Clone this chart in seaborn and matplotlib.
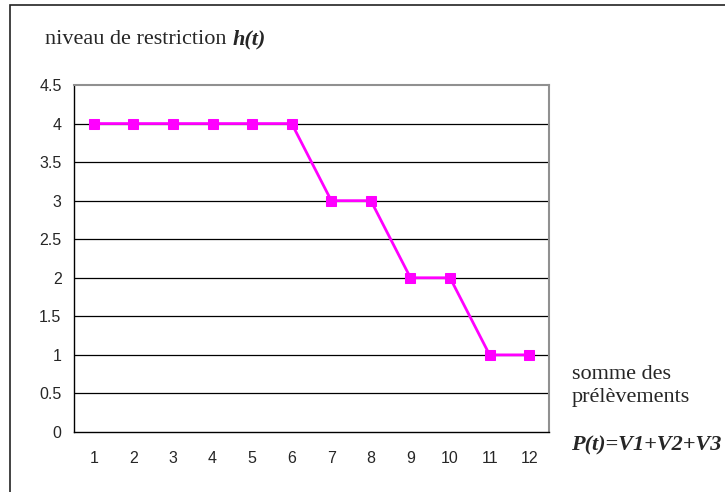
import pandas as pd
import numpy as np
import matplotlib
matplotlib.use("Agg")
import matplotlib.pyplot as plt
import seaborn as sns
from matplotlib.patches import Rectangle

# data
periods = [1, 2, 3, 4, 5, 6, 7, 8, 9, 10, 11, 12]
restriction = [4, 4, 4, 4, 4, 4, 3, 3, 2, 2, 1, 1]
y_ticks = [0, 0.5, 1, 1.5, 2, 2.5, 3, 3.5, 4, 4.5]

df = pd.DataFrame({"t": periods, "h": restriction})

sns.set_style("white")
plt.rcParams['font.family'] = ['Liberation Sans', 'DejaVu Sans']

fig = plt.figure(figsize=(7.25, 4.92), dpi=100)
ax = fig.add_axes([74 / 725, 1 - 432 / 492, 475 / 725, 347 / 492])

# horizontal gridlines
for v in y_ticks[1:-1]:
    ax.axhline(v, color="black", lw=0.9, zorder=0)

sns.lineplot(data=df, x="t", y="h", ax=ax, color="#FF00FF", lw=2,
             marker="s", markersize=7.5, markeredgecolor="#FF00FF", zorder=3)

ax.set_xlim(0.5, 12.5)
ax.set_ylim(0, 4.5)
ax.set_yticks(y_ticks)
ax.set_yticklabels([f"{v:g}" for v in y_ticks], fontsize=11.5)
ax.set_xticks(periods)
ax.set_xticklabels([str(p) for p in periods], fontsize=11.5)
ax.set_xticks(np.arange(0.5, 13, 1), minor=True)
ax.tick_params(axis="x", which="major", length=0, pad=14)
ax.tick_params(axis="x", which="minor", length=4, width=0.9, color="black", direction="out")
ax.tick_params(axis="y", length=4, width=0.9, color="black", direction="out", pad=5)
ax.set_xlabel("")
ax.set_ylabel("")

for side in ["left", "bottom"]:
    ax.spines[side].set_color("black")
    ax.spines[side].set_linewidth(1.0)
for side in ["top", "right"]:
    ax.spines[side].set_color("#909090")
    ax.spines[side].set_linewidth(1.5)

# outer frame
fig.patches.append(Rectangle((10 / 725, -0.1), 1.2, 1 - 5 / 492 + 0.1,
                             transform=fig.transFigure, fill=False,
                             edgecolor="#222222", lw=1.2))

serif = ['Liberation Serif', 'DejaVu Serif']
fig.text(45 / 725, 1 - 39 / 492, "niveau de restriction", family=serif,
         fontsize=16, va="center", ha="left")
fig.text(233 / 725, 1 - 39 / 492, "h(t)", family=serif, fontsize=16,
         weight="bold", style="italic", va="center", ha="left")
fig.text(572 / 725, 1 - 386 / 492, "somme des\nprélèvements", family=serif,
         fontsize=16, va="center", ha="left", linespacing=1.3)
fig.text(571 / 725, 1 - 445 / 492, "P(t)=V1+V2+V3", family=serif,
         fontsize=16, weight="bold", style="italic", va="center", ha="left")

fig.savefig("out.png", dpi=100)
